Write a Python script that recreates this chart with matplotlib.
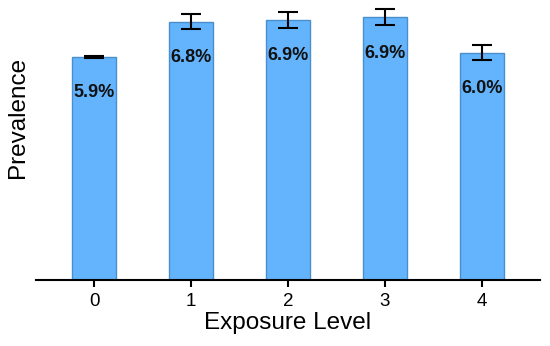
import matplotlib.pyplot as plt

levels = [0, 1, 2, 3, 4]
prevalence = [5.9, 6.83, 6.88, 6.95, 6.02]
err = [0.03, 0.2, 0.21, 0.21, 0.2]
bar_labels = ["5.9%", "6.8%", "6.9%", "6.9%", "6.0%"]

plt.rcParams["font.family"] = ["Liberation Sans", "DejaVu Sans"]

fig = plt.figure(figsize=(5.5, 3.46), dpi=100)
ax = fig.add_axes([36 / 550, 66 / 346, 504 / 550, 280 / 346])

ax.bar(levels, prevalence, width=0.45, color="#63b4fd", edgecolor="#4a8fcc",
       linewidth=1.0, zorder=2)
ax.errorbar(levels, prevalence, yerr=err, fmt="none", ecolor="black",
            elinewidth=1.5, capsize=7, capthick=1.5, zorder=3)

for x, y, lab in zip(levels, prevalence, bar_labels):
    ax.text(x, y - 0.95, lab, ha="center", va="center", fontsize=13,
            fontweight="bold", color="#111111", zorder=4)

ax.set_xlim(-0.6, 4.6)
ax.set_ylim(0, 7.41)
ax.set_xticks(levels)
ax.set_xticklabels([str(v) for v in levels], fontsize=13.5)
ax.set_yticks([])
ax.tick_params(axis="x", length=5, width=1.5, pad=4)
for side in ["left", "right", "top"]:
    ax.spines[side].set_visible(False)
ax.spines["bottom"].set_linewidth(1.5)

ax.set_xlabel("Exposure Level", fontsize=17.5, labelpad=2)
fig.text(18 / 550, 1 - 117 / 346, "Prevalence", rotation=90, fontsize=17.5,
         ha="center", va="center")

fig.savefig("out.png", dpi=100)
